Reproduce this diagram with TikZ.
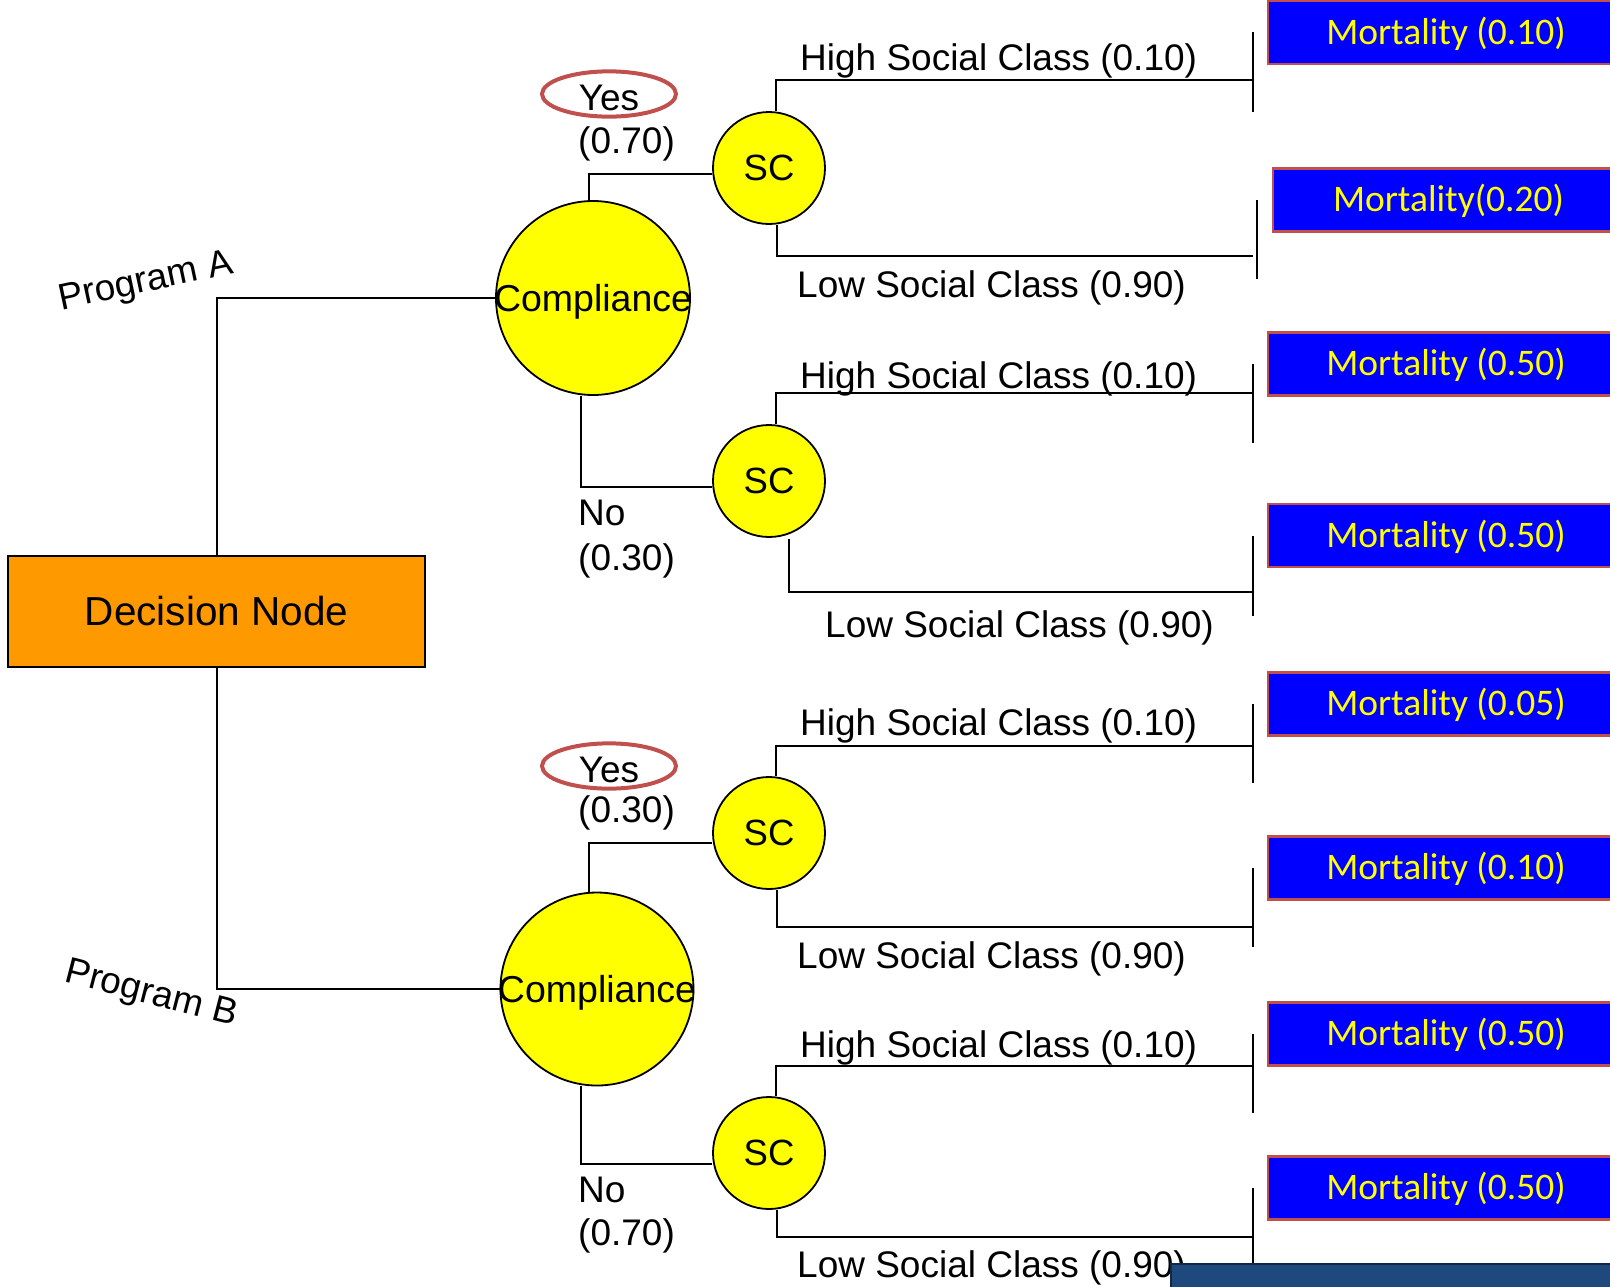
\documentclass[tikz,border=0pt]{standalone}
\usepackage{fontspec}
\setmainfont{Liberation Sans}
\newfontfamily\calib{Carlito}
\usetikzlibrary{shapes.geometric}
\definecolor{chyellow}{RGB}{255,255,0}
\definecolor{decorange}{RGB}{255,153,0}
\definecolor{outblue}{RGB}{0,0,255}
\definecolor{redborder}{RGB}{192,80,77}
\definecolor{bannerblue}{RGB}{31,73,125}
\definecolor{bannerline}{RGB}{20,40,70}
\begin{document}
\begin{tikzpicture}[x=1pt,y=-1pt,
  conn/.style={draw=black, line width=2pt},
  chance/.style={circle, draw=black, line width=1.8pt, fill=chyellow, inner sep=0pt, font=\fontsize{36.5}{40}\selectfont},
  lbl/.style={anchor=base west, inner sep=0pt, font=\fontsize{37}{42}\selectfont},
  ctext/.style={anchor=base, inner sep=0pt, font=\fontsize{37.5}{42}\selectfont},
  outcome/.style={rectangle, draw=redborder, line width=2.5pt, fill=outblue, text=chyellow, minimum height=63pt, inner sep=0pt, text height=29pt, text depth=6pt, font=\calib\fontsize{37.5}{42}\selectfont},
  yesmark/.style={ellipse, draw=redborder, line width=4pt, minimum width=134pt, minimum height=45pt, inner sep=0pt, text height=32pt, text depth=0pt, font=\fontsize{37}{42}\selectfont},
  decbox/.style={rectangle, draw=black, line width=2pt, fill=decorange, minimum width=417pt, minimum height=111pt, inner sep=0pt, font=\fontsize{40.5}{46}\selectfont},
  proglbl/.style={inner sep=0pt, font=\fontsize{37}{42}\selectfont}
]
\useasboundingbox (0,0) rectangle (1610,1286);
\clip (0,0) rectangle (1610,1286);

% decision node
\node[decbox] (dec) at (216.5,611.5) {Decision Node};

% compliance nodes
\node[chance, minimum size=194pt] (compA) at (593,298) {};
\node[ctext] (compAt) at (593,311) {Compliance};
\node[chance, minimum size=193pt] (compB) at (597,989) {};
\node[ctext] (compBt) at (597,1002) {Compliance};

% SC nodes
\node[chance, minimum size=112pt] (sc1) at (769,168) {SC};
\node[chance, minimum size=112pt] (sc2) at (769,481) {SC};
\node[chance, minimum size=112pt] (sc3) at (769,833) {SC};
\node[chance, minimum size=112pt] (sc4) at (769,1153) {SC};

% program connectors
\draw[conn] (dec.north) |- (compA.west);
\draw[conn] (dec.south) |- (compB.west);
\node[proglbl, rotate=12] (progA) at (146,283) {Program A};
\node[proglbl, rotate=-14.5] (progB) at (151,995) {Program B};

% compliance branches
\draw[conn] ([xshift=-4pt]compA.north) |- ([yshift=-6pt]sc1.west);
\draw[conn] ([xshift=-12pt]compA.south) |- ([yshift=-6pt]sc2.west);
\draw[conn] ([xshift=-8pt]compB.north) |- ([yshift=-10pt]sc3.west);
\draw[conn] ([xshift=-16pt]compB.south) |- ([yshift=-11pt]sc4.west);

% yes / no labels
\node[yesmark] (yesA) at (609,94) {Yes};
\node[lbl] (pyA) at (578,153) {(0.70)};
\node[lbl] (noA) at (578,525) {No};
\node[lbl] (pnA) at (578,570) {(0.30)};
\node[yesmark] (yesB) at (609,766) {Yes};
\node[lbl] (pyB) at (578,822) {(0.30)};
\node[lbl] (noB) at (578,1202) {No};
\node[lbl] (pnB) at (578,1245) {(0.70)};

% terminal points
\coordinate (e1) at (1253,80);
\coordinate (e2) at (1253,256);
\coordinate (e3) at (1253,393);
\coordinate (e4) at (1253,592);
\coordinate (e5) at (1253,746);
\coordinate (e6) at (1253,927);
\coordinate (e7) at (1253,1066);
\coordinate (e8) at (1253,1237);

% social class branches
\draw[conn] ([xshift=7pt]sc1.north) |- (e1);
\draw[conn] ([xshift=8pt]sc1.south) |- (e2);
\draw[conn] ([xshift=7pt]sc2.north) |- (e3);
\draw[conn] ([xshift=20pt,yshift=-1pt]sc2.south) |- (e4);
\draw[conn] ([xshift=7pt]sc3.north) |- (e5);
\draw[conn] ([xshift=8pt]sc3.south) |- (e6);
\draw[conn] ([xshift=7pt]sc4.north) |- (e7);
\draw[conn] ([xshift=8pt]sc4.south) |- (e8);

% terminal ticks
\draw[conn] ([yshift=48pt]e1) -- ([yshift=-32pt]e1);
\draw[conn] ([xshift=4pt,yshift=56pt]e2) -- ([xshift=4pt,yshift=-23pt]e2);
\draw[conn] ([yshift=29pt]e3) -- ([yshift=-50pt]e3);
\draw[conn] ([yshift=56pt]e4) -- ([yshift=-24pt]e4);
\draw[conn] ([yshift=42pt]e5) -- ([yshift=-37pt]e5);
\draw[conn] ([yshift=59pt]e6) -- ([yshift=-20pt]e6);
\draw[conn] ([yshift=32pt]e7) -- ([yshift=-47pt]e7);
\draw[conn] ([yshift=49pt]e8) -- ([yshift=-60pt]e8);

% branch labels
\node[lbl] (h1) at (800,70) {High Social Class (0.10)};
\node[lbl] (l1) at (797,297) {Low Social Class (0.90)};
\node[lbl] (h2) at (800,388) {High Social Class (0.10)};
\node[lbl] (l2) at (825,637) {Low Social Class (0.90)};
\node[lbl] (h3) at (800,735) {High Social Class (0.10)};
\node[lbl] (l3) at (797,968) {Low Social Class (0.90)};
\node[lbl] (h4) at (800,1057) {High Social Class (0.10)};
\node[lbl] (l4) at (797,1277) {Low Social Class (0.90)};

% outcome boxes
\node[outcome, minimum width=356pt] (m1) at (1446,32.5) {Mortality (0.10)};
\node[outcome, minimum width=351pt] (m2) at (1448.5,200) {Mortality(0.20)};
\node[outcome, minimum width=356pt] (m3) at (1446,364) {Mortality (0.50)};
\node[outcome, minimum width=356pt] (m4) at (1446,535.5) {Mortality (0.50)};
\node[outcome, minimum width=356pt] (m5) at (1446,704) {Mortality (0.05)};
\node[outcome, minimum width=356pt] (m6) at (1446,868) {Mortality (0.10)};
\node[outcome, minimum width=356pt] (m7) at (1446,1034) {Mortality (0.50)};
\node[outcome, minimum width=356pt] (m8) at (1446,1188) {Mortality (0.50)};

% partly visible banner at the bottom right
\node[rectangle, fill=bannerblue, draw=bannerline, line width=1.5pt, minimum width=460pt, minimum height=60pt, anchor=north west, inner sep=0pt] (banner) at (1170,1263) {};
\end{tikzpicture}
\end{document}
